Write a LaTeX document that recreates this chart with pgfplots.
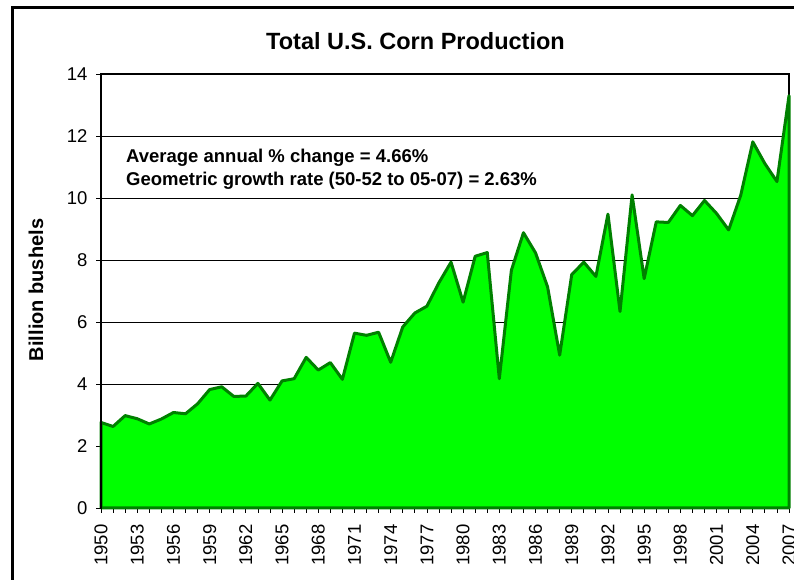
\documentclass[border=0pt]{standalone}
\usepackage{pgfplots}
\pgfplotsset{compat=1.18}
\usepackage{fontspec}
\setmainfont{Liberation Sans}
\definecolor{areagreen}{HTML}{00FF00}
\definecolor{linegreen}{HTML}{008000}
\begin{document}
\begin{tikzpicture}
\useasboundingbox (0pt,0pt) rectangle (794pt,580pt);
\draw[line width=3pt, line cap=rect] (12pt,0pt) -- (12pt,572pt) -- (794pt,572pt);
\node[anchor=base, font=\fontsize{23.5}{28}\selectfont\bfseries] at (415.5pt,530pt) {Total U.S. Corn Production};
\node[rotate=90, anchor=center, font=\fontsize{20}{24}\selectfont\bfseries] at (36pt,290pt) {Billion bushels};
\begin{axis}[
  at={(101pt,72pt)}, anchor=south west,
  scale only axis, width=688pt, height=434pt,
  xmin=1950, xmax=2007, ymin=0, ymax=14,
  ytick={0,2,...,14},
  xtick={1950,1953,...,2007},
  minor xtick={1950,1951,...,2007},
  tick pos=left, tick align=outside,
  major tick length=5pt, minor tick length=5pt,
  tick style={black, line width=0.8pt},
  ymajorgrids, grid style={black, line width=0.9pt},
  axis line style={line width=2.5pt},
  clip=false,
  /pgf/number format/assume math mode=true,
  /pgf/number format/1000 sep={},
  ticklabel style={font=\fontsize{18.5}{22}\selectfont},
  xticklabel style={rotate=90, anchor=east},
  xticklabel shift=8pt,
  yticklabel style={xshift=-5pt},
]
\addplot[fill=areagreen, draw=linegreen, line width=3pt, line join=round] coordinates {
(1950,2.76) (1951,2.63) (1952,2.98) (1953,2.88) (1954,2.71) (1955,2.87)
(1956,3.08) (1957,3.04) (1958,3.36) (1959,3.82) (1960,3.91) (1961,3.60)
(1962,3.61) (1963,4.02) (1964,3.48) (1965,4.10) (1966,4.17) (1967,4.86)
(1968,4.45) (1969,4.69) (1970,4.15) (1971,5.64) (1972,5.57) (1973,5.67)
(1974,4.70) (1975,5.84) (1976,6.29) (1977,6.51) (1978,7.27) (1979,7.93)
(1980,6.64) (1981,8.12) (1982,8.24) (1983,4.17) (1984,7.67) (1985,8.88)
(1986,8.23) (1987,7.13) (1988,4.93) (1989,7.53) (1990,7.93) (1991,7.47)
(1992,9.48) (1993,6.34) (1994,10.10) (1995,7.40) (1996,9.23) (1997,9.21)
(1998,9.76) (1999,9.43) (2000,9.92) (2001,9.50) (2002,8.97) (2003,10.09)
(2004,11.81) (2005,11.11) (2006,10.53) (2007,13.30)
} \closedcycle;
\draw[black, line width=2.5pt] (rel axis cs:0,-0.003) -- (rel axis cs:0,1);
\end{axis}
\node[anchor=base west, inner sep=0pt, font=\fontsize{18.5}{22}\selectfont\bfseries] at (126pt,417.3pt) {Average annual \% change = 4.66\%};
\node[anchor=base west, inner sep=0pt, font=\fontsize{18.5}{22}\selectfont\bfseries] at (126pt,394.5pt) {Geometric growth rate (50-52 to 05-07) = 2.63\%};
\end{tikzpicture}
\end{document}
